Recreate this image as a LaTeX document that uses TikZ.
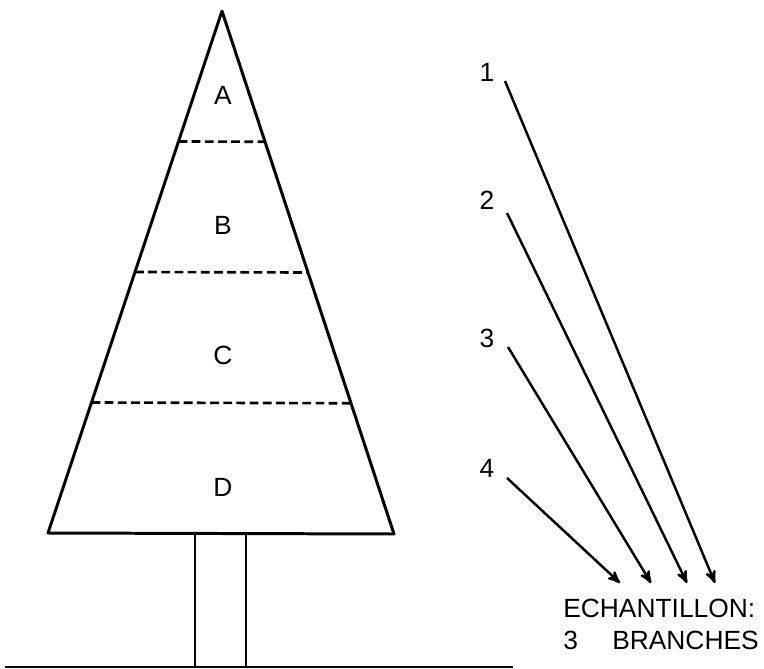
\documentclass[tikz,border=0pt]{standalone}
\usepackage{fontspec}
\setmainfont{Liberation Sans}
\usetikzlibrary{calc}
\usetikzlibrary{arrows}
\begin{document}
\begin{tikzpicture}[x=.02cm, y=-.02cm, line join=round]
\useasboundingbox (0,0) rectangle (764,669);
\tikzset{lbl/.style={inner sep=0, font=\fontsize{15}{18}\selectfont}}
% tree
\coordinate (top) at (222,11);
\coordinate (bl) at (48,533);
\coordinate (br) at (394,534);
\draw[line width=1.7pt] (top)--(bl)--(br)--cycle;
\foreach \t in {.25,.5,.75} {
 \draw[line width=1.5pt, dash pattern=on 5pt off 2.5pt] ($(top)!\t!(bl)$)--($(top)!\t!(br)$);
}
\draw[line width=1.5pt] (195,535)--(195,667) (246,535)--(246,667);
\draw[line width=1.2pt] (5,667)--(513,667);
\foreach \n/\y in {A/95,B/225,C/355,D/487} {
 \node[lbl] (z\n) at (223,\y) {\n};
}
% samples
\node[lbl, anchor=north west, align=left] (ech) at (563,599) {ECHANTILLON:\\3\hspace{1.3em}BRANCHES};
\foreach \i/\y/\sy/\sx/\tx in {1/72/81/505/715, 2/200/213/507/687, 3/338/347/508/651, 4/468/478/507/620} {
 \node[lbl] (n\i) at (487,\y) {\i};
 \coordinate (s\i) at (\sx,\sy);
 \coordinate (t\i) at (\tx,583);
 \draw[line width=1.4pt, ->, >=stealth'] (s\i)--(t\i);
}
\end{tikzpicture}
\end{document}
